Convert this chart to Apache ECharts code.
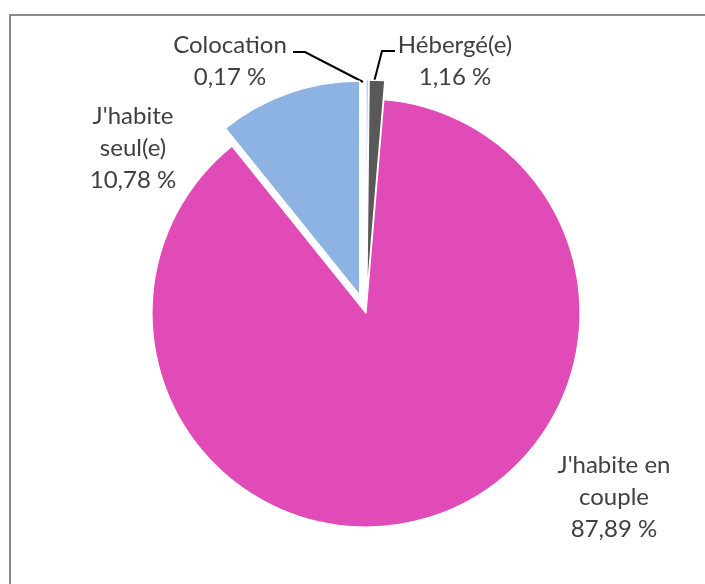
<!DOCTYPE html>
<html>
<head>
<meta charset="utf-8">
<script src="https://cdn.jsdelivr.net/npm/echarts@6/dist/echarts.min.js"></script>
<style>
  html, body { margin: 0; padding: 0; background: #ffffff; }
  #chart { width: 705px; height: 584px; }
</style>
</head>
<body>
<div id="chart"></div>
<script>
// Living situation shares (percent), clockwise from 12 o'clock
const categories = ["Colocation", "Hébergé(e)", "J'habite en\ncouple", "J'habite\nseul(e)"];
const shares = [0.17, 1.16, 87.89, 10.78];
const sliceColors = ['#9cc0e8', '#595959', '#e04bb7', '#8db3e2'];
// Slices pulled out from the centre
const pulledOut = [true, true, false, true];

const chart = echarts.init(document.getElementById('chart'));

function fmtPercent(v) {
  return v.toFixed(2).replace('.', ',') + ' %';
}

// Where each label block sits, and the leader line for the two thin slices
const labelSpots = [
  { x: 230, y: 61, line: [[363, 82], [305, 52], [293, 52]] },
  { x: 455, y: 61, line: [[374, 82], [382, 51], [395, 51]] },
  { x: 614, y: 497 },
  { x: 133, y: 148 }
];

const pieCenter = [366, 313];
const pieRadius = [0, 214];

const option = {
  animation: false,
  backgroundColor: '#ffffff',
  graphic: [
    {
      type: 'rect',
      shape: { x: 10, y: 15, width: 740, height: 620 },
      style: { fill: 'none', stroke: '#8a8a8a', lineWidth: 2 },
      z: 100
    }
  ],
  series: [
    {
      // coloured slices, some pulled out
      type: 'pie',
      center: pieCenter,
      radius: pieRadius,
      startAngle: 90,
      clockwise: true,
      selectedMode: 'multiple',
      selectedOffset: 19,
      emphasis: { disabled: true },
      itemStyle: { borderColor: '#ffffff', borderWidth: 1.2 },
      label: { show: false },
      labelLine: { show: false },
      data: categories.map((name, i) => ({
        name: name,
        value: shares[i],
        selected: pulledOut[i],
        itemStyle: { color: sliceColors[i] }
      }))
    },
    {
      // same shares again, unfilled, carrying the category labels
      type: 'pie',
      center: pieCenter,
      radius: pieRadius,
      startAngle: 90,
      clockwise: true,
      silent: true,
      avoidLabelOverlap: false,
      emphasis: { disabled: true },
      itemStyle: { color: 'rgba(0,0,0,0)', borderWidth: 0 },
      label: {
        show: true,
        position: 'outside',
        fontFamily: 'Lato',
        fontSize: 24,
        lineHeight: 32,
        color: '#404040',
        align: 'center',
        formatter: p => p.name + '\n' + fmtPercent(p.value)
      },
      labelLine: {
        show: true,
        lineStyle: { color: '#000000', width: 2 }
      },
      labelLayout: function (params) {
        const spot = labelSpots[params.dataIndex];
        const out = { x: spot.x, y: spot.y, align: 'center', verticalAlign: 'middle' };
        if (spot.line) out.labelLinePoints = spot.line;
        return out;
      },
      data: categories.map((name, i) => ({
        name: name,
        value: shares[i],
        labelLine: { show: i < 2 }
      }))
    }
  ]
};

chart.setOption(option);
</script>
</body>
</html>
